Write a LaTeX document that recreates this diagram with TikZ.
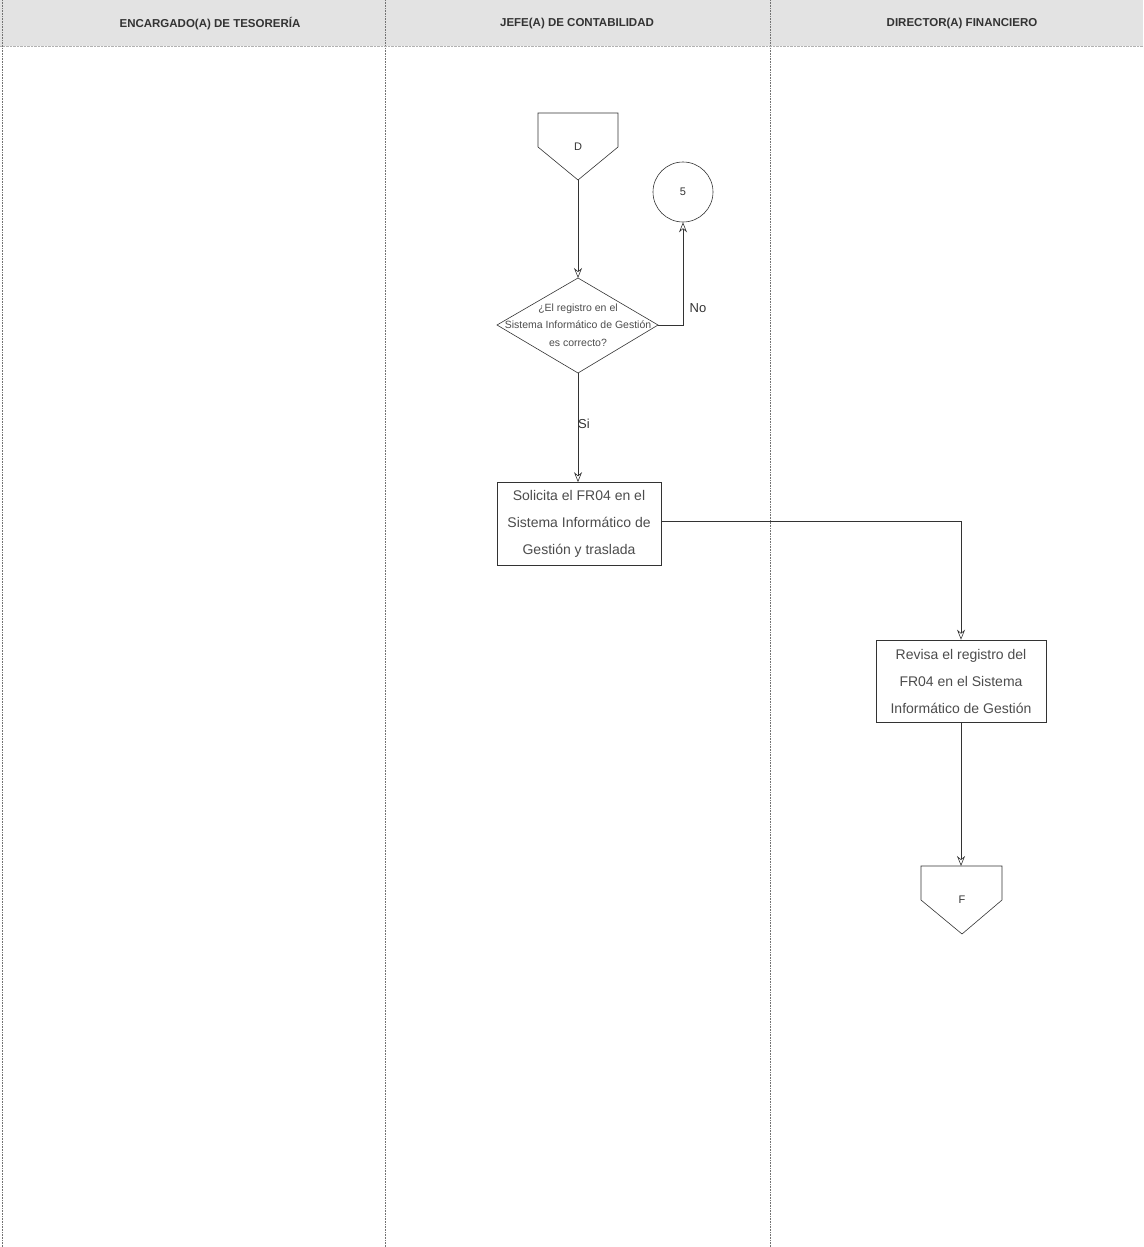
\documentclass[tikz,border=0pt]{standalone}
\usepackage{fontspec}
\setmainfont{Liberation Sans}
\usetikzlibrary{arrows.meta,positioning}
\begin{document}
\begin{tikzpicture}[x=1pt,y=-1pt,
  lane/.style={draw=black!55,densely dotted,line width=0.6pt},
  hdr/.style={font=\fontsize{11.5}{13}\selectfont\bfseries,text=black!80},
  shp/.style={draw=black!80,line width=0.6pt},
  proc/.style={shp,minimum width=164pt,minimum height=83pt,align=center,font=\fontsize{14}{27}\selectfont,text=black!70},
  flow/.style={draw=black!80,line width=0.6pt,-{Stealth[length=10pt,width=8pt,open]}},
  lbl/.style={font=\fontsize{13}{15}\selectfont,text=black!80}]
\useasboundingbox (0,0) rectangle (1143,1247);
% header band
\fill[black!11] (0,0) rectangle (1143,46);
\draw[lane] (2,0) -- (2,1247);
\draw[lane] (385,0) -- (385,1247);
\draw[lane] (770,0) -- (770,1247);
\draw[black!30,densely dotted] (0,46) -- (1143,46);
\node[hdr] (h1) at (210,24) {ENCARGADO(A) DE TESORERÍA};
\node[hdr] (h2) at (577,24) {JEFE(A) DE CONTABILIDAD};
\node[hdr] (h3) at (962,24) {DIRECTOR(A) FINANCIERO};

% off-page connector D
\draw[shp] (538,113) -- (618,113) -- (618,147) -- (578,180) -- (538,147) -- cycle;
\coordinate (Dbot) at (578,180);
\node[lbl,font=\fontsize{11}{13}\selectfont] (D) at (578,147) {D};

% on-page connector 5
\node[circle,shp,minimum size=60pt,inner sep=0pt,font=\fontsize{11}{13}\selectfont,text=black!80] (c5) at (683,192) {5};

% decision
\coordinate (decN) at (578,278);
\coordinate (decE) at (658,325);
\coordinate (decS) at (578,373);
\coordinate (decW) at (497,325);
\draw[shp] (decN) -- (decE) -- (decS) -- (decW) -- cycle;
\node[align=center,font=\fontsize{10.5}{17.5}\selectfont,text=black!70] (dec) at (578,325) {¿El registro en el\\Sistema Informático de Gestión\\es correcto?};

% processes
\node[proc] (p1) at (579,524) {Solicita el FR04 en el\\Sistema Informático de\\Gestión y traslada};
\node[proc,minimum width=170pt,minimum height=82pt] (p2) at (961,681) {Revisa el registro del\\FR04 en el Sistema\\Informático de Gestión};

% off-page connector F
\draw[shp] (921,866) -- (1002,866) -- (1002,900) -- (962,934) -- (921,900) -- cycle;
\node[lbl,font=\fontsize{11}{13}\selectfont] (F) at (962,900) {F};
\coordinate (Ftop) at (961,866);

% connectors
\draw[flow] (Dbot) -- (decN);
\draw[flow] (decE) -- (c5.south |- decE) -- (c5.south);
\node[lbl] (no) at (698,308) {No};
\draw[flow] (decS) -- (p1.north -| decS);
\node[lbl] (si) at (584,424) {Si};
\draw[flow] (p1.east |- 0,521) -- (p2.north |- 0,521) -- (p2.north);
\draw[flow] (p2.south) -- (Ftop);
\end{tikzpicture}
\end{document}
